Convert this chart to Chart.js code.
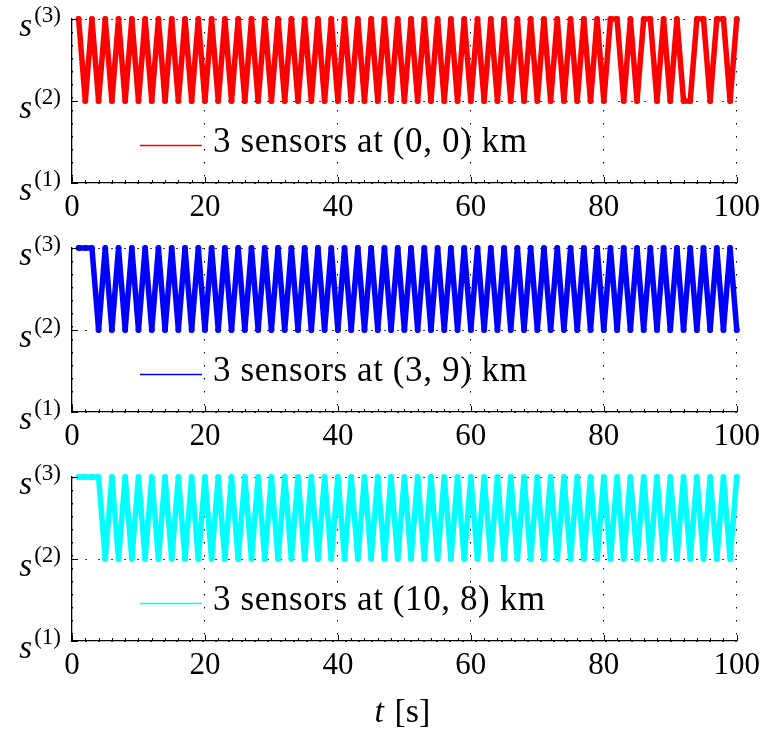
<!DOCTYPE html>
<html>
<head>
<meta charset="utf-8">
<script src="https://cdn.jsdelivr.net/npm/chart.js@4.4.0/dist/chart.umd.min.js"></script>
<style>
html,body{margin:0;padding:0;background:#fff;}
#wrap{position:relative;width:766px;height:733px;overflow:hidden;}
canvas{position:absolute;left:0;}
</style>
</head>
<body>
<div id="wrap">
<canvas id="c1" width="766" height="229" style="top:0px"></canvas>
<canvas id="c2" width="766" height="229" style="top:229px"></canvas>
<canvas id="c3" width="766" height="275" style="top:458px"></canvas>
</div>
<script>
// ---- data ----
const timeSeconds = [1,2,3,4,5,6,7,8,9,10,11,12,13,14,15,16,17,18,19,20,
  21,22,23,24,25,26,27,28,29,30,31,32,33,34,35,36,37,38,39,40,
  41,42,43,44,45,46,47,48,49,50,51,52,53,54,55,56,57,58,59,60,
  61,62,63,64,65,66,67,68,69,70,71,72,73,74,75,76,77,78,79,80,
  81,82,83,84,85,86,87,88,89,90,91,92,93,94,95,96,97,98,99,100];

const sensors00 = [3,2,3,2,3,2,3,2,3,2, 3,2,3,2,3,2,3,2,3,2,
  3,2,3,2,3,2,3,2,3,2, 3,2,3,2,3,2,3,2,3,2,
  3,2,3,2,3,2,3,2,3,2, 3,2,3,2,3,2,3,2,3,2,
  3,2,3,2,3,2,3,2,3,2, 3,2,3,2,3,2,3,2,3,2,
  3,3,2,3,2,3,3,2,3,2, 3,2,2,3,3,2,3,3,2,3];

const sensors39 = [3,3,3,2,3,2,3,2,3,2, 3,2,3,2,3,2,3,2,3,2,
  3,2,3,2,3,2,3,2,3,2, 3,2,3,2,3,2,3,2,3,2,
  3,2,3,2,3,2,3,2,3,2, 3,2,3,2,3,2,3,2,3,2,
  3,2,3,2,3,2,3,2,3,2, 3,2,3,2,3,2,3,2,3,2,
  3,2,3,2,3,2,3,2,3,2, 3,2,3,2,3,2,3,2,3,2];

const sensors108 = [3,3,3,3,2,3,2,3,2,3, 2,3,2,3,2,3,2,3,2,3,
  2,3,2,3,2,3,2,3,2,3, 2,3,2,3,2,3,2,3,2,3,
  2,3,2,3,2,3,2,3,2,3, 2,3,2,3,2,3,2,3,2,3,
  2,3,2,3,2,3,2,3,2,3, 2,3,2,3,2,3,2,3,2,3,
  2,3,2,3,2,3,2,3,2,3, 2,3,2,3,2,3,2,3,2,3];

const xTickValues = [0,20,40,60,80,100];
const yTickLabels = ['1','2','3'];   // s^(1), s^(2), s^(3)
const legendTexts = ['3 sensors at (0, 0) km','3 sensors at (3, 9) km','3 sensors at (10, 8) km'];
const seriesColors = ['#ff0000','#0000ff','#00ffff'];
const xTitleVar = 't';
const xTitleUnit = '[s]';

const SERIF = '"Liberation Serif", "Times New Roman", serif';

function makeDeco(lineColor, text, isLast) {
  return {
    id: 'panelDeco',
    afterDraw(chart) {
      const ctx = chart.ctx;
      const xs = chart.scales.x, ys = chart.scales.y;
      const ca = chart.chartArea;
      ctx.save();
      ctx.strokeStyle = '#000';
      ctx.lineWidth = 1;
      // inward x ticks (major + minor)
      for (let v = 0; v <= 100; v += 2) {
        const px = Math.round(xs.getPixelForValue(v)) + 0.5;
        const len = (v % 20 === 0) ? 6 : 3;
        ctx.beginPath();
        ctx.moveTo(px, ca.bottom);
        ctx.lineTo(px, ca.bottom - len);
        ctx.stroke();
      }
      // inward y ticks
      for (let v = 1; v <= 3; v++) {
        const py = Math.round(ys.getPixelForValue(v)) + 0.5;
        ctx.beginPath();
        ctx.moveTo(ca.left, py);
        ctx.lineTo(ca.left + 6, py);
        ctx.stroke();
      }
      // y labels s^(k)
      ctx.fillStyle = '#000';
      ctx.textAlign = 'left';
      ctx.textBaseline = 'alphabetic';
      yTickLabels.forEach((k, i) => {
        const py = ys.getPixelForValue(i + 1);
        ctx.font = 'italic 33px ' + SERIF;
        const sw = ctx.measureText('s').width;
        ctx.font = '23px ' + SERIF;
        const sup = '(' + k + ')';
        const pw = ctx.measureText(sup).width;
        const xr = 61;
        const x0 = xr - pw - sw - 2;
        ctx.font = 'italic 33px ' + SERIF;
        ctx.fillText('s', x0, py + 17);
        ctx.font = '23px ' + SERIF;
        ctx.fillText(sup, x0 + sw + 2, py + 3);
      });
      // legend
      const ly = Math.round(ca.top + 126) + 0.5;
      ctx.strokeStyle = lineColor;
      ctx.lineWidth = 1.5;
      ctx.beginPath();
      ctx.moveTo(ca.left + 68, ly);
      ctx.lineTo(ca.left + 130, ly);
      ctx.stroke();
      ctx.font = '35px ' + SERIF;
      try { ctx.letterSpacing = '0.6px'; } catch (e) {}
      ctx.fillStyle = '#000';
      ctx.fillText(text, ca.left + 141, ca.top + 133);
      try { ctx.letterSpacing = '0px'; } catch (e) {}
      // x title on last panel
      if (isLast) {
        const cx = (ca.left + ca.right) / 2;
        ctx.font = 'italic 34px ' + SERIF;
        const tw = ctx.measureText(xTitleVar + ' ').width;
        ctx.font = '34px ' + SERIF;
        const uw = ctx.measureText(xTitleUnit).width;
        const x0 = cx - (tw + uw) / 2 - 3;
        const base = chart.height - 11;
        ctx.font = 'italic 34px ' + SERIF;
        ctx.fillText(xTitleVar, x0, base);
        ctx.font = '34px ' + SERIF;
        ctx.fillText(xTitleUnit, x0 + tw + 2, base);
      }
      ctx.restore();
    }
  };
}

function makeChart(id, values, color, text, isLast) {
  const canvas = document.getElementById(id);
  const H = canvas.height;
  return new Chart(canvas, {
    type: 'line',
    data: {
      datasets: [{
        data: timeSeconds.map((t, i) => ({ x: t, y: values[i] })),
        borderColor: color,
        backgroundColor: color,
        pointBackgroundColor: color,
        pointBorderWidth: 0,
        pointRadius: 3,
        borderWidth: 5.5,
        borderJoinStyle: 'round',
        borderCapStyle: 'round',
        tension: 0,
        clip: false
      }]
    },
    options: {
      responsive: false,
      animation: false,
      devicePixelRatio: 1,
      events: [],
      layout: { padding: { top: 19, right: 27, left: 0, bottom: 0 } },
      plugins: {
        legend: { display: false },
        tooltip: { enabled: false }
      },
      scales: {
        x: {
          type: 'linear', min: 0, max: 100,
          afterBuildTicks: s => { s.ticks = xTickValues.map(v => ({ value: v })); },
          ticks: { color: '#000', font: { family: SERIF, size: 31 }, padding: 6, maxRotation: 0, autoSkip: false },
          grid: { color: '#000', lineWidth: 1, drawTicks: false },
          border: { display: true, color: '#000', width: 1.3, dash: [1.5, 11.5] },
          afterFit: s => { s.height = H - 19 - 164; }
        },
        y: {
          type: 'linear', min: 1, max: 3,
          ticks: { stepSize: 1, display: false },
          grid: { color: '#000', lineWidth: 1, drawTicks: false },
          border: { display: true, color: '#000', width: 1.3, dash: [1.5, 11.5] },
          afterFit: s => { s.width = 72; }
        }
      }
    },
    plugins: [makeDeco(color, text, isLast)]
  });
}

makeChart('c1', sensors00, seriesColors[0], legendTexts[0], false);
makeChart('c2', sensors39, seriesColors[1], legendTexts[1], false);
makeChart('c3', sensors108, seriesColors[2], legendTexts[2], true);
</script>
</body>
</html>
